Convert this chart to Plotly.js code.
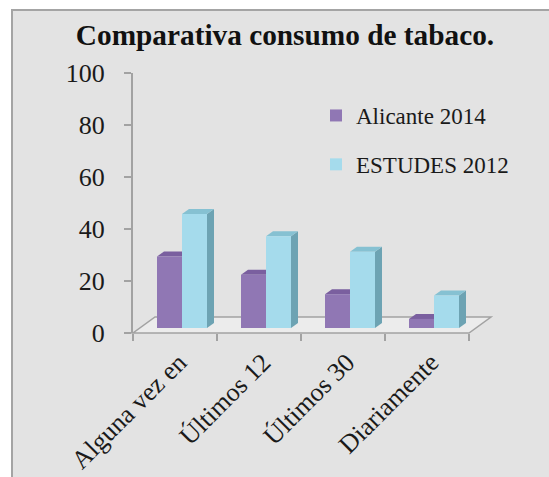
<!DOCTYPE html>
<html>
<head>
<meta charset="utf-8">
<script src="https://cdn.plot.ly/plotly-3.0.1.min.js"></script>
<style>
  html, body { margin: 0; padding: 0; background: #ffffff; width: 549px; height: 477px; overflow: hidden; }
  #panel { position: absolute; left: 11px; top: 9px; width: 545px; height: 475px;
           background: #e3e3e3; border-left: 2px solid #a4a4a4; border-top: 2px solid #a4a4a4; }
  #chart { position: absolute; left: 0; top: 0; width: 549px; height: 477px; }
</style>
</head>
<body>
<div id="panel"></div>
<div id="chart"></div>
<script>
// ---- data ----
const categories = ['Alguna vez en', 'Últimos 12', 'Últimos 30', 'Diariamente'];
const alicante2014 = [27.5, 20.5, 13, 3.5];
const estudes2012 = [43.8, 35.3, 29.3, 12.5];
const seriesNames = ['Alicante 2014', 'ESTUDES 2012'];
const yTickValues = [0, 20, 40, 60, 80, 100];
const chartTitle = 'Comparativa consumo de tabaco.';

// ---- styling / geometry ----
const W = 549, H = 477;
const PX_LEFT = 133, PX_RIGHT = 469, PX_TOP = 73, PX_BOTTOM = 333;
const Y_MAX = 100;
const catPx = (PX_RIGHT - PX_LEFT) / categories.length;
const unitPx = (PX_BOTTOM - PX_TOP) / Y_MAX;
const setBackX = 7 / catPx, setBackY = 5 / unitPx;   // bars sit back on the floor
const depthX = 7 / catPx, depthY = 5 / unitPx;       // bar depth
const barW = 25 / catPx;
const floorDx = 22 / (PX_RIGHT - PX_LEFT), floorDy = 16 / (PX_BOTTOM - PX_TOP);

const colors = {
  purple: '#9077b4', purpleTop: '#7a5f9f',
  cyan: '#a5dbec', cyanTop: '#86c1d2', cyanSide: '#6da3b3'
};
const serif = 'Liberation Serif, Times New Roman, serif';

const traces = [
  // carrier for the visible front-plane axes (no marks)
  { type: 'scatter', mode: 'markers', x: categories, y: categories.map(() => null),
    xaxis: 'x', yaxis: 'y', showlegend: false, hoverinfo: 'skip' },
  { type: 'bar', name: seriesNames[0], x: categories, y: alicante2014, xaxis: 'x2', yaxis: 'y2',
    width: barW, offset: -barW, marker: { color: colors.purple, line: { width: 0 } },
    legendgroup: 'a', hoverinfo: 'none' },
  { type: 'bar', name: seriesNames[1], x: categories, y: estudes2012, xaxis: 'x2', yaxis: 'y2',
    width: barW, offset: 0, marker: { color: colors.cyan, line: { width: 0 } },
    legendgroup: 'b', hoverinfo: 'none' }
];

const shapes = [];
// floor (decoration)
shapes.push({
  type: 'path', xref: 'paper', yref: 'paper', layer: 'below',
  path: `M0,0 L1,0 L${1 + floorDx},${floorDy} L${floorDx},${floorDy} Z`,
  fillcolor: '#ececec', line: { color: '#a2a2a2', width: 1.5 }
});
// 3D faces computed from the data
function topFace(xl, xr, h, color) {
  return { type: 'path', xref: 'x2', yref: 'y2', layer: 'below',
    path: `M${xl},${h} L${xr},${h} L${xr + depthX},${h + depthY} L${xl + depthX},${h + depthY} Z`,
    fillcolor: color, line: { width: 0 } };
}
function sideFace(xr, h, color) {
  return { type: 'path', xref: 'x2', yref: 'y2', layer: 'below',
    path: `M${xr},0 L${xr + depthX},${depthY} L${xr + depthX},${h + depthY} L${xr},${h} Z`,
    fillcolor: color, line: { width: 0 } };
}
categories.forEach((c, i) => {
  const a = alicante2014[i], e = estudes2012[i];
  shapes.push(topFace(i - barW, i, a, colors.purpleTop));
  shapes.push(sideFace(i + barW, e, colors.cyanSide));
  shapes.push(topFace(i, i + barW, e, colors.cyanTop));
});

const layout = {
  width: W, height: H,
  margin: { l: PX_LEFT, r: W - PX_RIGHT, t: PX_TOP, b: H - PX_BOTTOM, pad: 0 },
  paper_bgcolor: 'rgba(0,0,0,0)', plot_bgcolor: 'rgba(0,0,0,0)',
  barmode: 'overlay',
  showlegend: true,
  title: { text: chartTitle, font: { family: serif, size: 29.3, weight: 'bold', color: '#111' },
           xref: 'container', yref: 'container', x: 285 / W, xanchor: 'center', y: 1 - 35 / H, yanchor: 'middle' },
  xaxis: { type: 'category', range: [-0.5, categories.length - 0.5], tickson: 'boundaries',
           ticks: 'outside', ticklen: 7, tickwidth: 1.5, tickcolor: '#a2a2a2',
           showline: false, showgrid: false, zeroline: false, tickangle: -45,
           ticklabelstandoff: 8, ticklabelshift: 4,
           tickfont: { family: serif, size: 26, color: '#1a1a1a' }, fixedrange: true },
  yaxis: { range: [0, Y_MAX], tickmode: 'array', tickvals: yTickValues,
           ticks: 'outside', ticklen: 7, tickwidth: 1.5, tickcolor: '#a2a2a2',
           showline: true, linecolor: '#a2a2a2', linewidth: 2, showgrid: false, zeroline: false,
           ticklabelstandoff: 14,
           tickfont: { family: serif, size: 26, color: '#1a1a1a' }, fixedrange: true },
  xaxis2: { type: 'category', overlaying: 'x', anchor: 'y2', visible: false,
            range: [-0.5 - setBackX, categories.length - 0.5 - setBackX], fixedrange: true },
  yaxis2: { overlaying: 'y', anchor: 'x2', visible: false,
            range: [-setBackY, Y_MAX - setBackY], fixedrange: true },
  legend: { x: (316 - PX_LEFT) / (PX_RIGHT - PX_LEFT), xanchor: 'left',
            y: (PX_BOTTOM - 94) / (PX_BOTTOM - PX_TOP), yanchor: 'top',
            bgcolor: 'rgba(0,0,0,0)', traceorder: 'grouped', tracegroupgap: 16,
            font: { family: serif, size: 23, color: '#1a1a1a' } },
  shapes: shapes
};

Plotly.newPlot('chart', traces, layout, { displayModeBar: false, staticPlot: true });
</script>
</body>
</html>
